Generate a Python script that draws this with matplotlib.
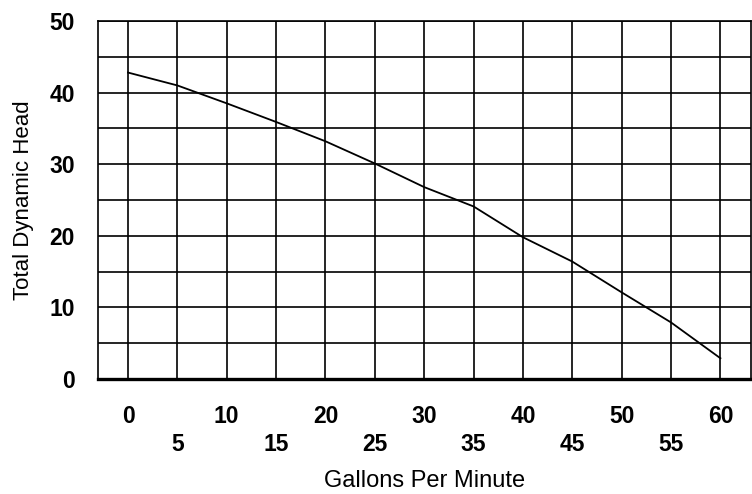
import numpy as np
import matplotlib
matplotlib.use("Agg")
import matplotlib.pyplot as plt
from matplotlib.ticker import MultipleLocator, FixedLocator

plt.rcParams['font.family'] = ['Liberation Sans', 'DejaVu Sans']

# Pump curve
gpm = [0, 5, 10, 15, 20, 25, 30, 35, 40, 45, 50, 55, 60]
head = [42.8, 41.0, 38.5, 35.9, 33.2, 30.1, 26.8, 24.1, 19.8, 16.4, 12.1, 7.9, 2.9]

major_x = [0, 10, 20, 30, 40, 50, 60]
minor_x = [5, 15, 25, 35, 45, 55]
y_ticks = [0, 10, 20, 30, 40, 50]

fig = plt.figure(figsize=(7.52, 4.94), dpi=100)
ax = fig.add_axes([98/752, 1 - 379/494, (751 - 98)/752, (379 - 21)/494])

ax.plot(gpm, head, color='black', lw=1.3, zorder=3)

ax.set_xlim(-3.04, 63.1)
ax.set_ylim(0, 50)

ax.xaxis.set_major_locator(FixedLocator(major_x))
ax.xaxis.set_minor_locator(FixedLocator(minor_x))
ax.set_xticklabels([str(v) for v in major_x])
ax.set_xticklabels([str(v) for v in minor_x], minor=True)
ax.yaxis.set_major_locator(FixedLocator(y_ticks))
ax.yaxis.set_minor_locator(MultipleLocator(5))

ax.tick_params(axis='x', which='major', length=0, pad=18.5, labelsize=16.5)
ax.tick_params(axis='x', which='minor', length=0, pad=39, labelsize=16.5)
ax.tick_params(axis='y', which='both', length=0, pad=16.5, labelsize=16.5)
for lab in ax.get_xticklabels(which='both') + ax.get_yticklabels():
    lab.set_fontweight('bold')

ax.grid(True, which='both', color='black', lw=1.2)
ax.set_axisbelow(True)

for s in ['left', 'top', 'right']:
    ax.spines[s].set_linewidth(1.2)
ax.spines['bottom'].set_linewidth(2.4)

ax.set_xlabel('Gallons Per Minute', fontsize=17)
ax.set_ylabel('Total Dynamic Head', fontsize=16)
ax.xaxis.set_label_coords(0.5, (379 - 470) / 358)
ax.yaxis.set_label_coords((34 - 98) / 653, 0.5)

fig.savefig('out.png', dpi=100)
